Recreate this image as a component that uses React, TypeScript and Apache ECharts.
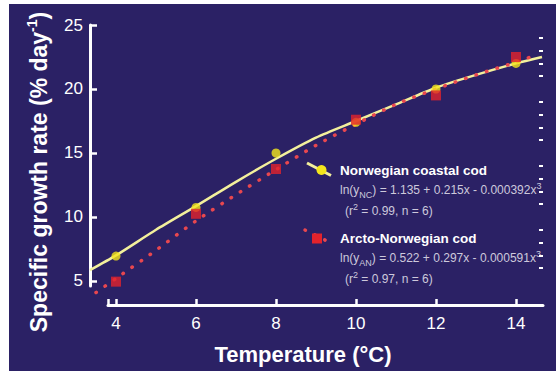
import React, { useEffect, useRef } from "react";
import * as echarts from "echarts";

const tempNC = [4, 6, 8, 10, 12, 14];
const growthNC = [6.95, 10.75, 15.0, 17.4, 20.0, 22.0];
const tempAN = [4, 6, 8, 10, 12, 14];
const growthAN = [4.95, 10.25, 13.75, 17.6, 19.5, 22.5];

const fitTempNC = [3.35, 4, 5, 6, 7, 8, 9, 10, 11, 12, 13, 14, 14.65];
const fitGrowthNC = [5.85, 7.0, 9.0, 10.85, 12.75, 14.55, 16.2, 17.5, 18.8, 20.1, 21.1, 22.0, 22.5];
const fitTempAN = [3.5, 4, 5, 6, 7, 8, 9, 10, 11, 12, 13, 14, 14.5];
const fitGrowthAN = [4.1, 5.2, 7.4, 9.7, 11.75, 13.7, 15.6, 17.25, 18.8, 20.0, 21.1, 22.1, 22.65];

const xTicks = [4, 6, 8, 10, 12, 14];
const yTicks = [5, 10, 15, 20, 25];
const yMinorTicks = [6, 7, 8, 9, 11, 12, 13, 14, 16, 17, 18, 19, 21, 22, 23, 24];

const FONT = "'Liberation Sans', Arial, Helvetica, sans-serif";
const BG = "#2b2165";
const YEL_LINE = "#f3f09c";
const YEL_PT = "#f4e61c";
const RED = "#e3232c";
const RED_DOT = "#e8474f";
const GREY = "#cdc9dc";

const zip = (a: number[], b: number[]) => a.map((v, i) => [v, b[i]]);

export default function App() {
  const ref = useRef<HTMLDivElement>(null);
  useEffect(() => {
    if (!ref.current) return;
    const chart = echarts.init(ref.current, undefined, { renderer: "svg" });
    const sub = { fontSize: 9, lineHeight: 9, verticalAlign: "bottom", fill: GREY, color: GREY, fontFamily: FONT };
    const sup = { fontSize: 9, lineHeight: 9, verticalAlign: "top", fill: GREY, color: GREY, fontFamily: FONT };
    const t = { fontSize: 12, lineHeight: 18, fill: GREY, color: GREY, fontFamily: FONT };
    const txt = (x: number, y: number, text: string, rich: any) => ({
      type: "text",
      x,
      y,
      silent: true,
      style: {
        text,
        rich,
        fill: GREY,
        fontFamily: FONT,
        fontSize: 12,
        align: "left",
        textAlign: "left",
        verticalAlign: "middle",
        textVerticalAlign: "middle",
      },
    });
    const title = (x: number, y: number, text: string) => ({
      type: "text",
      x,
      y,
      silent: true,
      style: {
        text,
        fill: "#ffffff",
        fontFamily: FONT,
        fontSize: 13.5,
        fontWeight: "bold",
        align: "left",
        textAlign: "left",
        verticalAlign: "middle",
        textVerticalAlign: "middle",
      },
    });
    chart.setOption({
      animation: false,
      backgroundColor: "#ffffff",
      grid: [
        { left: 90, right: 13, top: 25, bottom: 66 },
        { left: 108, right: 13, top: 25, bottom: 66 },
        { left: 90, right: 13, top: 25, bottom: 84.9 },
      ],
      xAxis: [
        { gridIndex: 0, type: "value", min: 3.35, max: 14.675, show: false },
        {
          gridIndex: 1,
          type: "value",
          min: 3.8,
          max: 14.675,
          axisLine: { show: true, lineStyle: { color: "#ffffff", width: 3 } },
          axisTick: {
            show: true,
            inside: true,
            length: 6,
            lineStyle: { color: "#ffffff", width: 2.5 },
            customValues: [3.8, ...xTicks],
          },
          axisLabel: { customValues: xTicks, color: "#ffffff", fontSize: 17, margin: 10, fontFamily: FONT },
          splitLine: { show: false },
        },
        { gridIndex: 2, type: "value", min: 0, max: 1, show: false },
      ],
      yAxis: [
        { gridIndex: 0, type: "value", min: 3.125, max: 25, show: false },
        { gridIndex: 1, type: "value", min: 0, max: 1, show: false },
        {
          gridIndex: 2,
          type: "value",
          min: 4.6,
          max: 25,
          axisLine: { show: true, lineStyle: { color: "#ffffff", width: 3 } },
          axisTick: {
            show: true,
            inside: true,
            length: 7,
            lineStyle: { color: "#ffffff", width: 2.5 },
            customValues: yTicks,
          },
          axisLabel: { customValues: yTicks, color: "#ffffff", fontSize: 17, margin: 7, fontFamily: FONT },
          splitLine: { show: false },
        },
        {
          gridIndex: 2,
          type: "value",
          min: 4.6,
          max: 25,
          axisLine: { show: false },
          axisTick: {
            show: true,
            inside: true,
            length: 4,
            lineStyle: { color: "#ffffff", width: 2 },
            customValues: yMinorTicks,
          },
          axisLabel: { show: false },
          splitLine: { show: false },
        },
      ],
      series: [
        {
          name: "Norwegian coastal cod fit",
          type: "line",
          xAxisIndex: 0,
          yAxisIndex: 0,
          data: zip(fitTempNC, fitGrowthNC),
          smooth: 0.25,
          showSymbol: false,
          clip: false,
          lineStyle: { color: YEL_LINE, width: 2.5 },
          z: 3,
        },
        {
          name: "Arcto-Norwegian cod fit",
          type: "line",
          xAxisIndex: 0,
          yAxisIndex: 0,
          data: zip(fitTempAN, fitGrowthAN),
          smooth: 0.25,
          showSymbol: false,
          clip: false,
          lineStyle: { color: RED_DOT, width: 3.5, type: [0.5, 10.5], cap: "round" },
          z: 4,
        },
        {
          name: "Norwegian coastal cod",
          type: "scatter",
          xAxisIndex: 0,
          yAxisIndex: 0,
          data: zip(tempNC, growthNC),
          symbol: "circle",
          symbolSize: 9,
          itemStyle: { color: YEL_PT },
          z: 5,
        },
        {
          name: "Arcto-Norwegian cod",
          type: "scatter",
          xAxisIndex: 0,
          yAxisIndex: 0,
          data: zip(tempAN, growthAN),
          symbol: "rect",
          symbolSize: 10,
          itemStyle: { color: RED },
          z: 6,
        },
      ],
      graphic: [
        {
          type: "rect",
          z: -100,
          silent: true,
          shape: { x: 9, y: 4, width: 547, height: 367 },
          style: { fill: BG },
        },
        {
          type: "text",
          x: 39,
          y: 172,
          rotation: Math.PI / 2,
          silent: true,
          style: {
            text: "{a|Specific growth rate (% day}{s|-1}{a|)}",
            fill: "#ffffff",
            align: "center",
            textAlign: "center",
            verticalAlign: "middle",
            textVerticalAlign: "middle",
            rich: {
              a: { fontSize: 23, fontWeight: "bold", lineHeight: 28, fill: "#ffffff", color: "#ffffff", fontFamily: FONT },
              s: { fontSize: 14, fontWeight: "bold", lineHeight: 14, verticalAlign: "top", fill: "#ffffff", color: "#ffffff", fontFamily: FONT },
            },
          },
        },
        {
          type: "text",
          x: 303,
          y: 354,
          silent: true,
          style: {
            text: "Temperature (°C)",
            fill: "#ffffff",
            fontFamily: FONT,
            fontSize: 22,
            fontWeight: "bold",
            align: "center",
            textAlign: "center",
            verticalAlign: "middle",
            textVerticalAlign: "middle",
          },
        },
        {
          type: "line",
          silent: true,
          shape: { x1: 307, y1: 163, x2: 331, y2: 175.5 },
          style: { stroke: YEL_LINE, lineWidth: 3 },
        },
        {
          type: "circle",
          silent: true,
          shape: { cx: 321.5, cy: 170, r: 5 },
          style: { fill: YEL_PT },
        },
        title(340, 170, "Norwegian coastal cod"),
        txt(340, 190, "{t|ln(y}{sub|NC}{t|) = 1.135 + 0.215x - 0.000392x}{sup|3}", { t, sub, sup }),
        txt(345, 211, "{t|(r}{sup|2}{t| = 0.99, n = 6)}", { t, sup }),
        {
          type: "line",
          silent: true,
          shape: { x1: 305, y1: 230, x2: 327, y2: 241 },
          style: { stroke: RED_DOT, lineWidth: 3.5, lineDash: [0.5, 10.5], lineCap: "round" },
        },
        {
          type: "rect",
          silent: true,
          shape: { x: 312, y: 233.5, width: 10, height: 10 },
          style: { fill: RED },
        },
        title(340, 238, "Arcto-Norwegian cod"),
        txt(340, 258, "{t|ln(y}{sub|AN}{t|) = 0.522 + 0.297x - 0.000591x}{sup|3}", { t, sub, sup }),
        txt(345, 279, "{t|(r}{sup|2}{t| = 0.97, n = 6)}", { t, sup }),
      ],
    });
    return () => chart.dispose();
  }, []);
  return (
    <div
      ref={ref}
      style={{ position: "fixed", left: 0, top: 0, width: 556, height: 371 }}
    />
  );
}
